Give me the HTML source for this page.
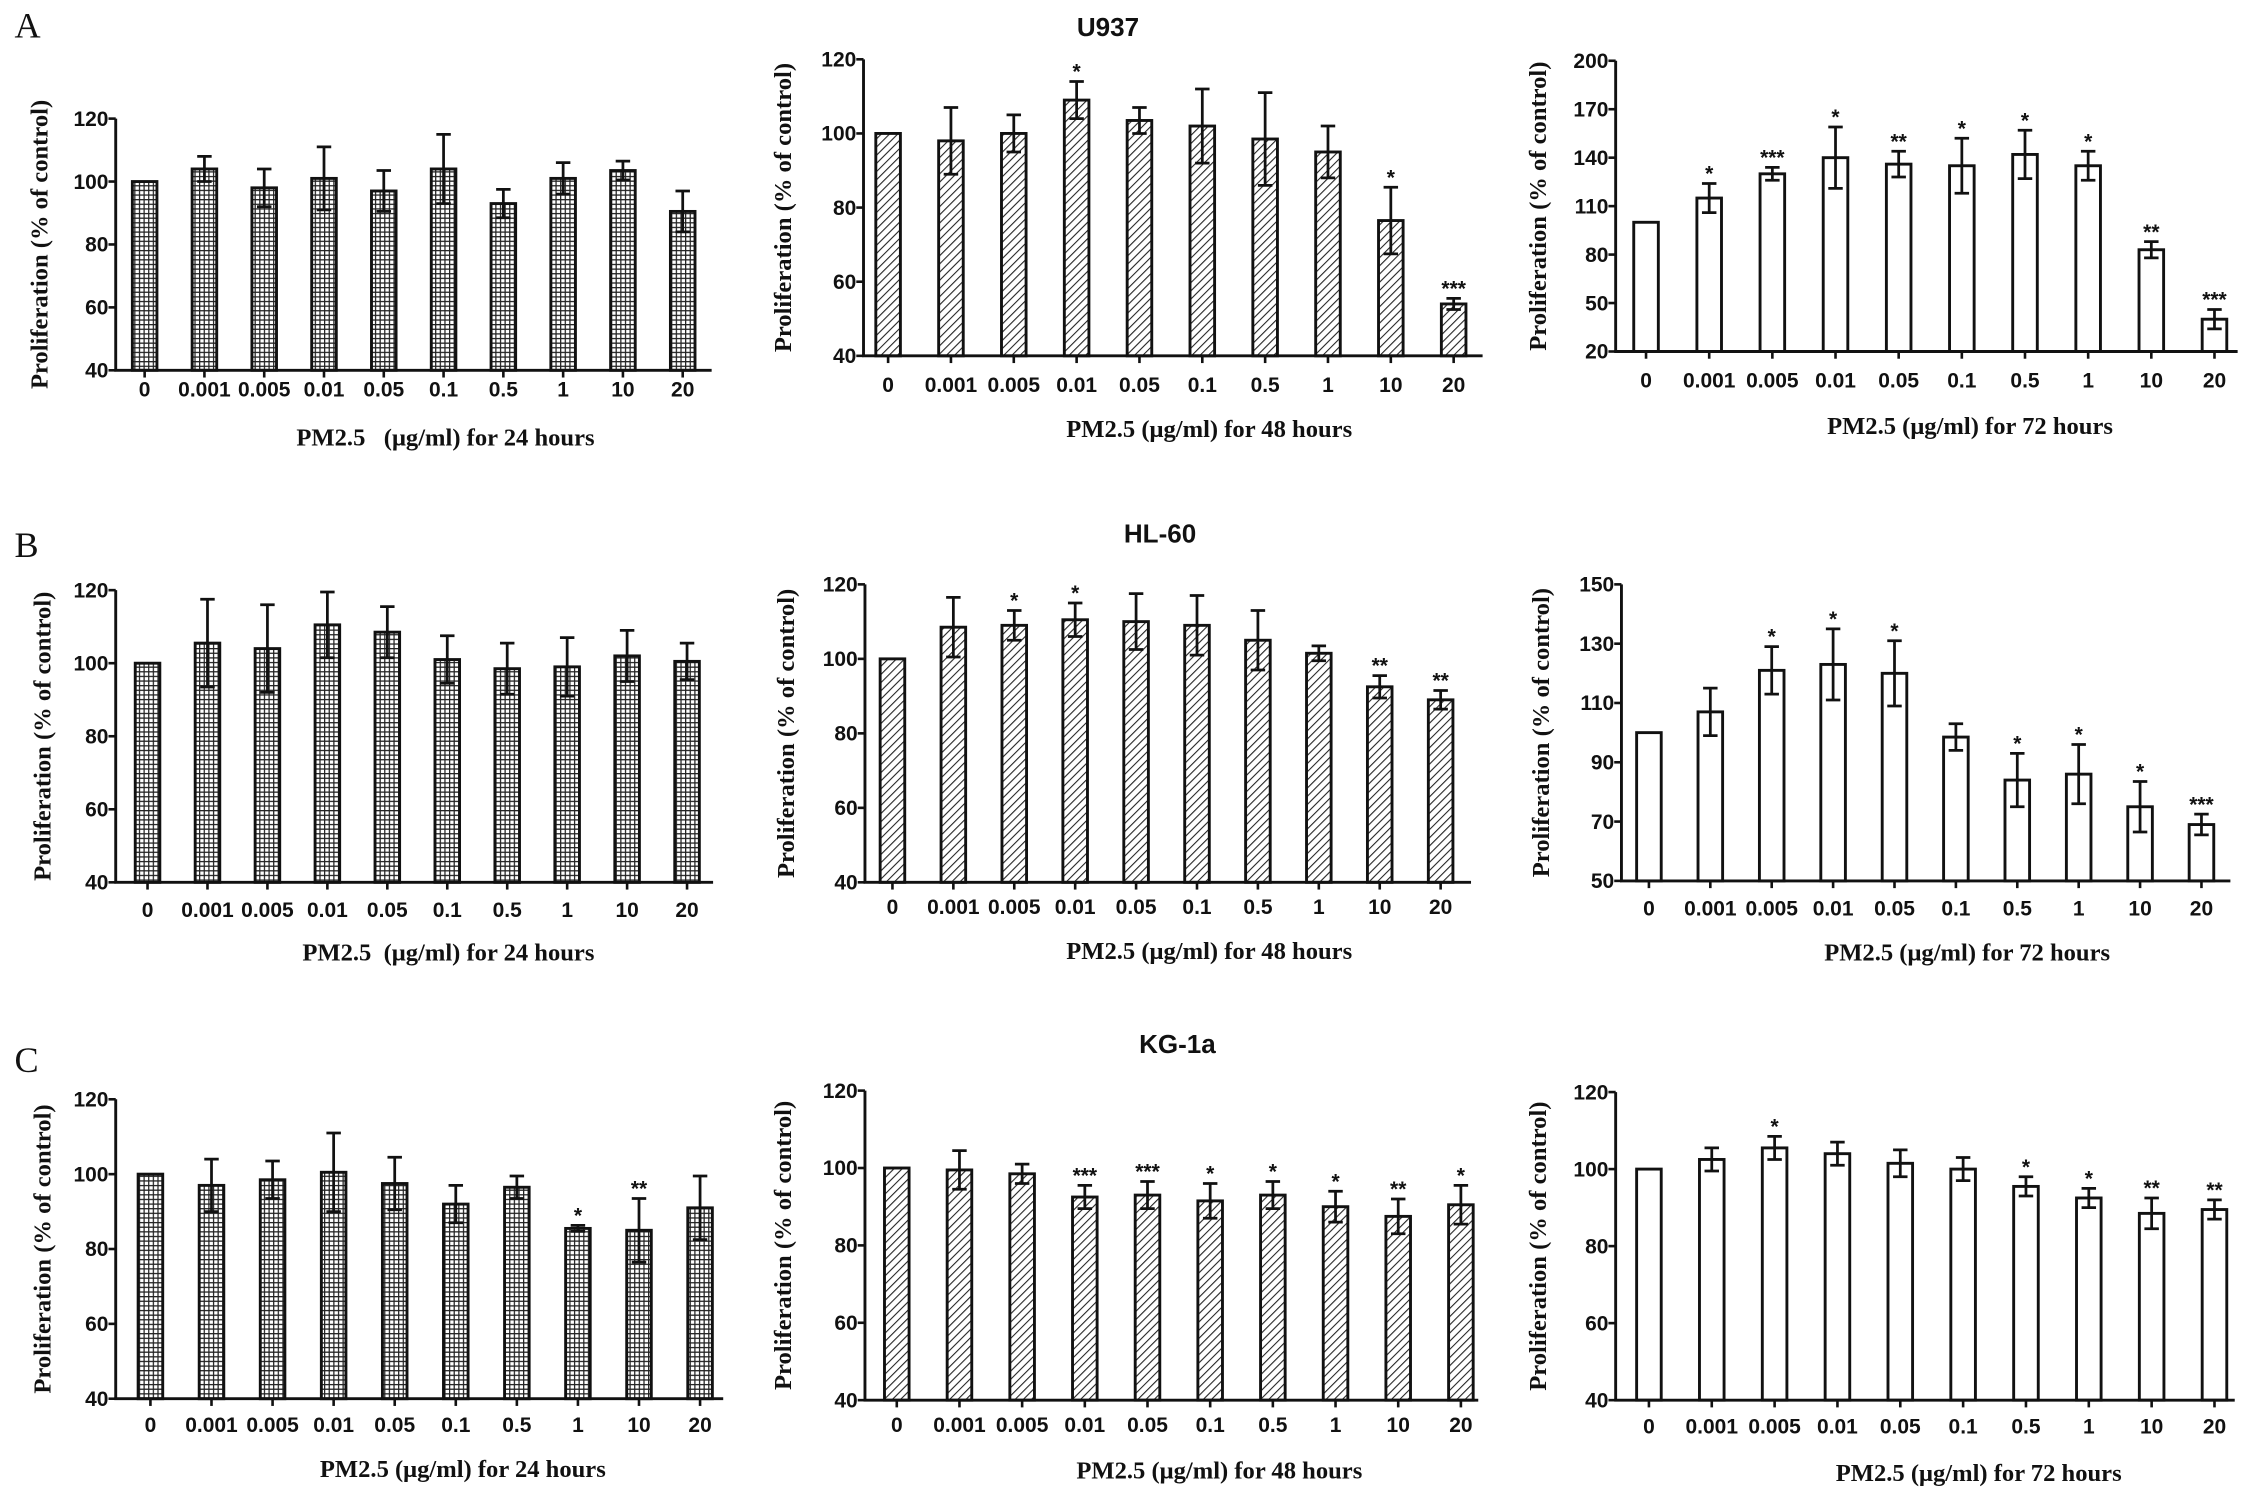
<!DOCTYPE html>
<html><head><meta charset="utf-8">
<style>
html,body{margin:0;padding:0;background:#fff;}
svg{display:block;}
.tick{font-family:"Liberation Sans",Arial,sans-serif;font-weight:bold;font-size:14.5px;fill:#111;}
.ser{font-family:"Liberation Serif","Times New Roman",serif;font-weight:bold;fill:#111;}
.ttl{font-family:"Liberation Sans",Arial,sans-serif;font-weight:bold;font-size:18px;fill:#111;}
</style></head>
<body>
<svg id="fig" xmlns="http://www.w3.org/2000/svg" width="2268" height="1502" viewBox="0 0 1568 1038.4">
<defs>
<pattern id="grid" width="3.2" height="3.2" patternUnits="userSpaceOnUse">
<rect width="3.2" height="3.2" fill="#fff"/><path d="M0 0.4H3.2M0.4 0V3.2" stroke="#222" stroke-width="0.9"/></pattern>
<pattern id="hatch" width="4" height="4" patternUnits="userSpaceOnUse" patternTransform="rotate(45)">
<rect width="4" height="4" fill="#fff"/><line x1="0" y1="0" x2="0" y2="4" stroke="#222" stroke-width="1.5"/></pattern>
</defs>
<text class="ser" x="10" y="26" font-size="25" style="font-weight:normal">A</text>
<text class="ser" x="10" y="385" font-size="25" style="font-weight:normal">B</text>
<text class="ser" x="10" y="741" font-size="25" style="font-weight:normal">C</text>
<text class="ttl" x="766" y="25" text-anchor="middle">U937</text>
<text class="ttl" x="802" y="375" text-anchor="middle">HL-60</text>
<text class="ttl" x="814" y="728" text-anchor="middle">KG-1a</text>
</svg>
<script>
const categories = ["0","0.001","0.005","0.01","0.05","0.1","0.5","1","10","20"];
const catLabels = ["0","0.001","0.005","0.01","0.05","0.1","0.5","1","10","20"];
const ticksStd = [40,60,80,100,120];
const ticksA3 = [20,50,80,110,140,170,200];
const ticksB3 = [50,70,90,110,130,150];
const meanA1 = [100,104,98,101,97,104,93,101,103.5,90.5];
const errA1  = [0,4,6,10,6.5,11,4.5,5,3,6.5];
const sigA1  = ["","","","","","","","","",""];
const meanA2 = [100,98,100,109,103.5,102,98.5,95,76.5,54];
const errA2  = [0,9,5,5,3.5,10,12.5,7,9,1.5];
const sigA2  = ["","","","*","","","","","*","***"];
const meanA3 = [100,115,130,140,136,135,142,135,83,40];
const errA3  = [0,9,4,19,8,17,15,9,5,6];
const sigA3  = ["","*","***","*","**","*","*","*","**","***"];
const meanB1 = [100,105.5,104,110.5,108.5,101,98.5,99,102,100.5];
const errB1  = [0,12,12,9,7,6.5,7,8,7,5];
const sigB1  = ["","","","","","","","","",""];
const meanB2 = [100,108.5,109,110.5,110,109,105,101.5,92.5,89];
const errB2  = [0,8,4,4.5,7.5,8,8,2,3,2.5];
const sigB2  = ["","","*","*","","","","","**","**"];
const meanB3 = [100,107,121,123,120,98.5,84,86,75,69];
const errB3  = [0,8,8,12,11,4.5,9,10,8.5,3.5];
const sigB3  = ["","","*","*","*","","*","*","*","***"];
const meanC1 = [100,97,98.5,100.5,97.5,92,96.5,85.5,85,91];
const errC1  = [0,7,5,10.5,7,5,3,0.8,8.5,8.5];
const sigC1  = ["","","","","","","","*","**",""];
const meanC2 = [100,99.5,98.5,92.5,93,91.5,93,90,87.5,90.5];
const errC2  = [0,5,2.5,3,3.5,4.5,3.5,4,4.5,5];
const sigC2  = ["","","","***","***","*","*","*","**","*"];
const meanC3 = [100,102.5,105.5,104,101.5,100,95.5,92.5,88.5,89.5];
const errC3  = [0,3,3,3,3.5,3,2.5,2.5,4,2.5];
const sigC3  = ["","","*","","","","*","*","**","**"];

const NS="http://www.w3.org/2000/svg";
const svg=document.getElementById('fig');
function mk(tag,attrs,parent){const e=document.createElementNS(NS,tag);for(const k in attrs)e.setAttribute(k,attrs[k]);(parent||svg).appendChild(e);return e;}

const panels=[
 {id:'a1',ax:80,top:82,bot:256,xend:492,b0:100,b9:472,tickY:274,xl:"PM2.5\u00a0\u00a0 (\u03bcg/ml) for 24 hours",xlx:308,xly:308,ytx:33,fill:'url(#grid)',ticks:ticksStd,m:meanA1,e:errA1,s:sigA1},
 {id:'a2',ax:597,top:41,bot:246,xend:1025,b0:614,b9:1005,tickY:271,xl:"PM2.5 (\u03bcg/ml) for 48 hours",xlx:836,xly:302,ytx:547,fill:'url(#hatch)',ticks:ticksStd,m:meanA2,e:errA2,s:sigA2},
 {id:'a3',ax:1117,top:42,bot:243,xend:1547,b0:1138,b9:1531,tickY:268,xl:"PM2.5 (\u03bcg/ml) for 72 hours",xlx:1362,xly:300,ytx:1069,fill:'#fff',ticks:ticksA3,m:meanA3,e:errA3,s:sigA3},
 {id:'b1',ax:80,top:408,bot:610,xend:493,b0:102,b9:475,tickY:634,xl:"PM2.5\u00a0 (\u03bcg/ml) for 24 hours",xlx:310,xly:664,ytx:35,fill:'url(#grid)',ticks:ticksStd,m:meanB1,e:errB1,s:sigB1},
 {id:'b2',ax:598,top:404,bot:610,xend:1017,b0:617,b9:996,tickY:632,xl:"PM2.5 (\u03bcg/ml) for 48 hours",xlx:836,xly:663,ytx:549,fill:'url(#hatch)',ticks:ticksStd,m:meanB2,e:errB2,s:sigB2},
 {id:'b3',ax:1121,top:404,bot:609,xend:1542,b0:1140,b9:1522,tickY:633,xl:"PM2.5 (\u03bcg/ml) for 72 hours",xlx:1360,xly:664,ytx:1071,fill:'#fff',ticks:ticksB3,m:meanB3,e:errB3,s:sigB3},
 {id:'c1',ax:80,top:760,bot:967,xend:500,b0:104,b9:484,tickY:990,xl:"PM2.5 (\u03bcg/ml) for 24 hours",xlx:320,xly:1021,ytx:35,fill:'url(#grid)',ticks:ticksStd,m:meanC1,e:errC1,s:sigC1},
 {id:'c2',ax:598,top:754,bot:968,xend:1022,b0:620,b9:1010,tickY:990,xl:"PM2.5 (\u03bcg/ml) for 48 hours",xlx:843,xly:1022,ytx:547,fill:'url(#hatch)',ticks:ticksStd,m:meanC2,e:errC2,s:sigC2},
 {id:'c3',ax:1117,top:755,bot:968,xend:1545,b0:1140,b9:1531,tickY:991,xl:"PM2.5 (\u03bcg/ml) for 72 hours",xlx:1368,xly:1024,ytx:1069,fill:'#fff',ticks:ticksStd,m:meanC3,e:errC3,s:sigC3}
];

panels.forEach(p=>{
  const g=mk('g',{});
  
  
  const lo=p.ticks[0],hi=p.ticks[p.ticks.length-1];
  const y=v=>p.bot-(v-lo)/(hi-lo)*(p.bot-p.top);
  const step=(p.b9-p.b0)/(categories.length-1);
  const x=i=>p.b0+i*step;
  const ya=mk('line',{x1:p.ax,y1:p.top,x2:p.ax,y2:p.bot,stroke:'#111','stroke-width':2},g);
  
  
  p.ticks.forEach(t=>{
    mk('line',{x1:p.ax-5,y1:y(t),x2:p.ax,y2:y(t),stroke:'#111','stroke-width':1.8},g);
    const tl=mk('text',{x:p.ax-5,y:y(t)+5,'text-anchor':'end',class:'tick'},g);
    tl.textContent=t;
    
    
  });
  categories.forEach((c,i)=>{
    const cx=x(i),w=17,v=p.m[i],er=p.e[i];
    const b=mk('rect',{x:cx-w/2,y:y(v),width:w,height:p.bot-y(v),fill:p.fill,stroke:'#111','stroke-width':2},g);
    
    
    if(er>0){
      const ey1=y(v+er),ey2=y(v-er);
      const eb=mk('path',{d:`M${cx} ${ey1}V${ey2}M${cx-5} ${ey1}H${cx+5}M${cx-5} ${ey2}H${cx+5}`,stroke:'#111','stroke-width':1.9,fill:'none'},g);
      
      
    }
    if(p.s[i]){
      const st=mk('text',{x:cx,y:y(v+er)-2,'text-anchor':'middle',class:'tick','font-size':'16'},g);
      st.textContent=p.s[i];
      
      
    }
    mk('line',{x1:cx,y1:p.bot,x2:cx,y2:p.bot+5,stroke:'#111','stroke-width':1.8},g);
    const xl=mk('text',{x:cx,y:p.tickY,'text-anchor':'middle',class:'tick'},g);
    xl.textContent=catLabels[i];
    
    
  });
  const xa=mk('line',{x1:p.ax-1,y1:p.bot,x2:p.xend,y2:p.bot,stroke:'#111','stroke-width':2},g);
  
  
  const xt=mk('text',{x:p.xlx,y:p.xly,'text-anchor':'middle',class:'ser','font-size':'17'},g);
  xt.textContent=p.xl;
  
  
  const cy=(p.top+p.bot)/2;
  const yt=mk('text',{x:p.ytx,y:cy,'text-anchor':'middle',class:'ser','font-size':'17',transform:`rotate(-90 ${p.ytx} ${cy})`},g);
  yt.textContent="Proliferation (% of control)";
  
  
});
</script>
</body></html>
